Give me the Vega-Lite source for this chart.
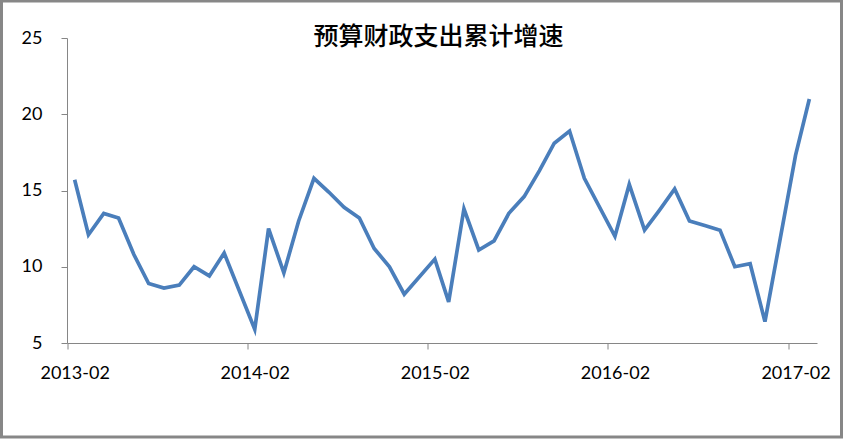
{
  "$schema": "https://vega.github.io/schema/vega-lite/v6.json",
  "autosize": {"type": "none"},
  "width": 840,
  "height": 436,
  "padding": {"left": 1.5, "top": 1, "right": 2.5, "bottom": 2},
  "background": "#ffffff",
  "title": {
    "text": "预算财政支出累计增速",
    "font": "Noto Sans CJK SC",
    "fontSize": 25,
    "fontWeight": 500,
    "color": "#000000",
    "anchor": "middle",
    "offset": -49,
    "dx": 17
  },
  "config": {
    "view": {"stroke": "#878787", "strokeWidth": 3},
    "axis": {
      "labelFont": "Lato",
      "labelFontSize": 18,
      "labelColor": "#000000",
      "domainColor": "#868686",
      "tickColor": "#868686",
      "domainWidth": 1,
      "tickWidth": 1,
      "tickSize": 6,
      "grid": false,
      "title": null
    }
  },
  "data": {
    "values": [
      {"date": "2013-02-01", "value": 15.7},
      {"date": "2013-03-01", "value": 12.1},
      {"date": "2013-04-01", "value": 13.5},
      {"date": "2013-05-01", "value": 13.2},
      {"date": "2013-06-01", "value": 10.8},
      {"date": "2013-07-01", "value": 8.9},
      {"date": "2013-08-01", "value": 8.6},
      {"date": "2013-09-01", "value": 8.8},
      {"date": "2013-10-01", "value": 10.0},
      {"date": "2013-11-01", "value": 9.4},
      {"date": "2013-12-01", "value": 10.9},
      {"date": "2014-02-01", "value": 5.9},
      {"date": "2014-03-01", "value": 12.5},
      {"date": "2014-04-01", "value": 9.6},
      {"date": "2014-05-01", "value": 13.0},
      {"date": "2014-06-01", "value": 15.8},
      {"date": "2014-07-01", "value": 14.9},
      {"date": "2014-08-01", "value": 13.9},
      {"date": "2014-09-01", "value": 13.2},
      {"date": "2014-10-01", "value": 11.2},
      {"date": "2014-11-01", "value": 10.0},
      {"date": "2014-12-01", "value": 8.2},
      {"date": "2015-02-01", "value": 10.5},
      {"date": "2015-03-01", "value": 7.7},
      {"date": "2015-04-01", "value": 13.8},
      {"date": "2015-05-01", "value": 11.1},
      {"date": "2015-06-01", "value": 11.7},
      {"date": "2015-07-01", "value": 13.5},
      {"date": "2015-08-01", "value": 14.6},
      {"date": "2015-09-01", "value": 16.3},
      {"date": "2015-10-01", "value": 18.1},
      {"date": "2015-11-01", "value": 18.9},
      {"date": "2015-12-01", "value": 15.8},
      {"date": "2016-02-01", "value": 12.0},
      {"date": "2016-03-01", "value": 15.4},
      {"date": "2016-04-01", "value": 12.4},
      {"date": "2016-05-01", "value": 13.7},
      {"date": "2016-06-01", "value": 15.1},
      {"date": "2016-07-01", "value": 13.0},
      {"date": "2016-08-01", "value": 12.7},
      {"date": "2016-09-01", "value": 12.4},
      {"date": "2016-10-01", "value": 10.0},
      {"date": "2016-11-01", "value": 10.2},
      {"date": "2016-12-01", "value": 6.4},
      {"date": "2017-02-01", "value": 17.3},
      {"date": "2017-03-01", "value": 21.0}
    ]
  },
  "mark": {"type": "line", "color": "#4a7ebb", "strokeWidth": 3.7},
  "encoding": {
    "x": {
      "field": "date",
      "type": "temporal",
      "scale": {
        "type": "utc",
        "domain": [
          {"year": 2013, "month": 1, "date": 16, "hours": 12, "utc": true},
          {"year": 2017, "month": 3, "date": 16, "hours": 12, "utc": true}
        ],
        "range": [65.5, 815.5]
      },
      "axis": {
        "offset": -94,
        "values": [
          {"year": 2013, "month": 2, "date": 1, "utc": true},
          {"year": 2014, "month": 2, "date": 1, "utc": true},
          {"year": 2015, "month": 2, "date": 1, "utc": true},
          {"year": 2016, "month": 2, "date": 1, "utc": true},
          {"year": 2017, "month": 2, "date": 1, "utc": true}
        ],
        "labelExpr": "utcFormat(datum.value, '%Y-%m')",
        "tickOffset": -7.5,
        "labelOffset": 7.5,
        "labelPadding": 15,
        "labelAngle": 0,
        "labelFlush": false,
        "labelOverlap": false
      }
    },
    "y": {
      "field": "value",
      "type": "quantitative",
      "scale": {"domain": [5, 25], "range": [342, 37], "nice": false, "zero": false},
      "axis": {
        "offset": -65.5,
        "values": [5, 10, 15, 20, 25],
        "labelPadding": 19
      }
    }
  }
}
